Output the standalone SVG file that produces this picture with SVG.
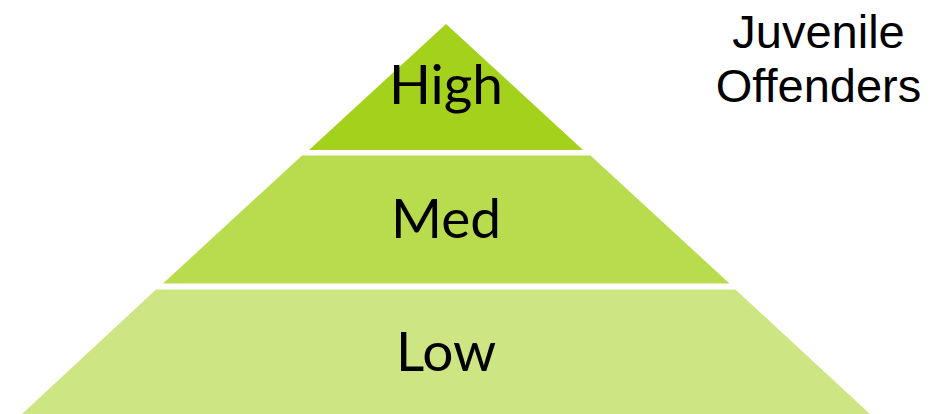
<svg xmlns="http://www.w3.org/2000/svg" width="941" height="414" viewBox="0 0 941 414">
<style>
.lvl{font-family:Lato,"Open Sans",sans-serif;font-size:55px;fill:#000;text-anchor:middle}
.lbl{font-family:"Liberation Sans",Arial,sans-serif;font-size:47px;fill:#000;text-anchor:middle}
</style>
<rect width="941" height="414" fill="#ffffff"/>
<g id="high">
<polygon points="446,24 583,150 309,150" fill="#A4D11C"/>
<text class="lvl" x="446" y="104">High</text>
</g>
<g id="med">
<polygon points="302,155.5 590.5,155.5 729.5,283.5 163,283.5" fill="#B9DC4F"/>
<text class="lvl" x="446" y="238">Med</text>
</g>
<g id="low">
<polygon points="156,289.5 735.5,289.5 870,414 22,414" fill="#CDE683"/>
<text class="lvl" x="446" y="371">Low</text>
</g>
<g id="label">
<text class="lbl" x="818.5" y="48">Juvenile</text>
<text class="lbl" x="818.5" y="102">Offenders</text>
</g>
<g id="connectors"/>
</svg>
